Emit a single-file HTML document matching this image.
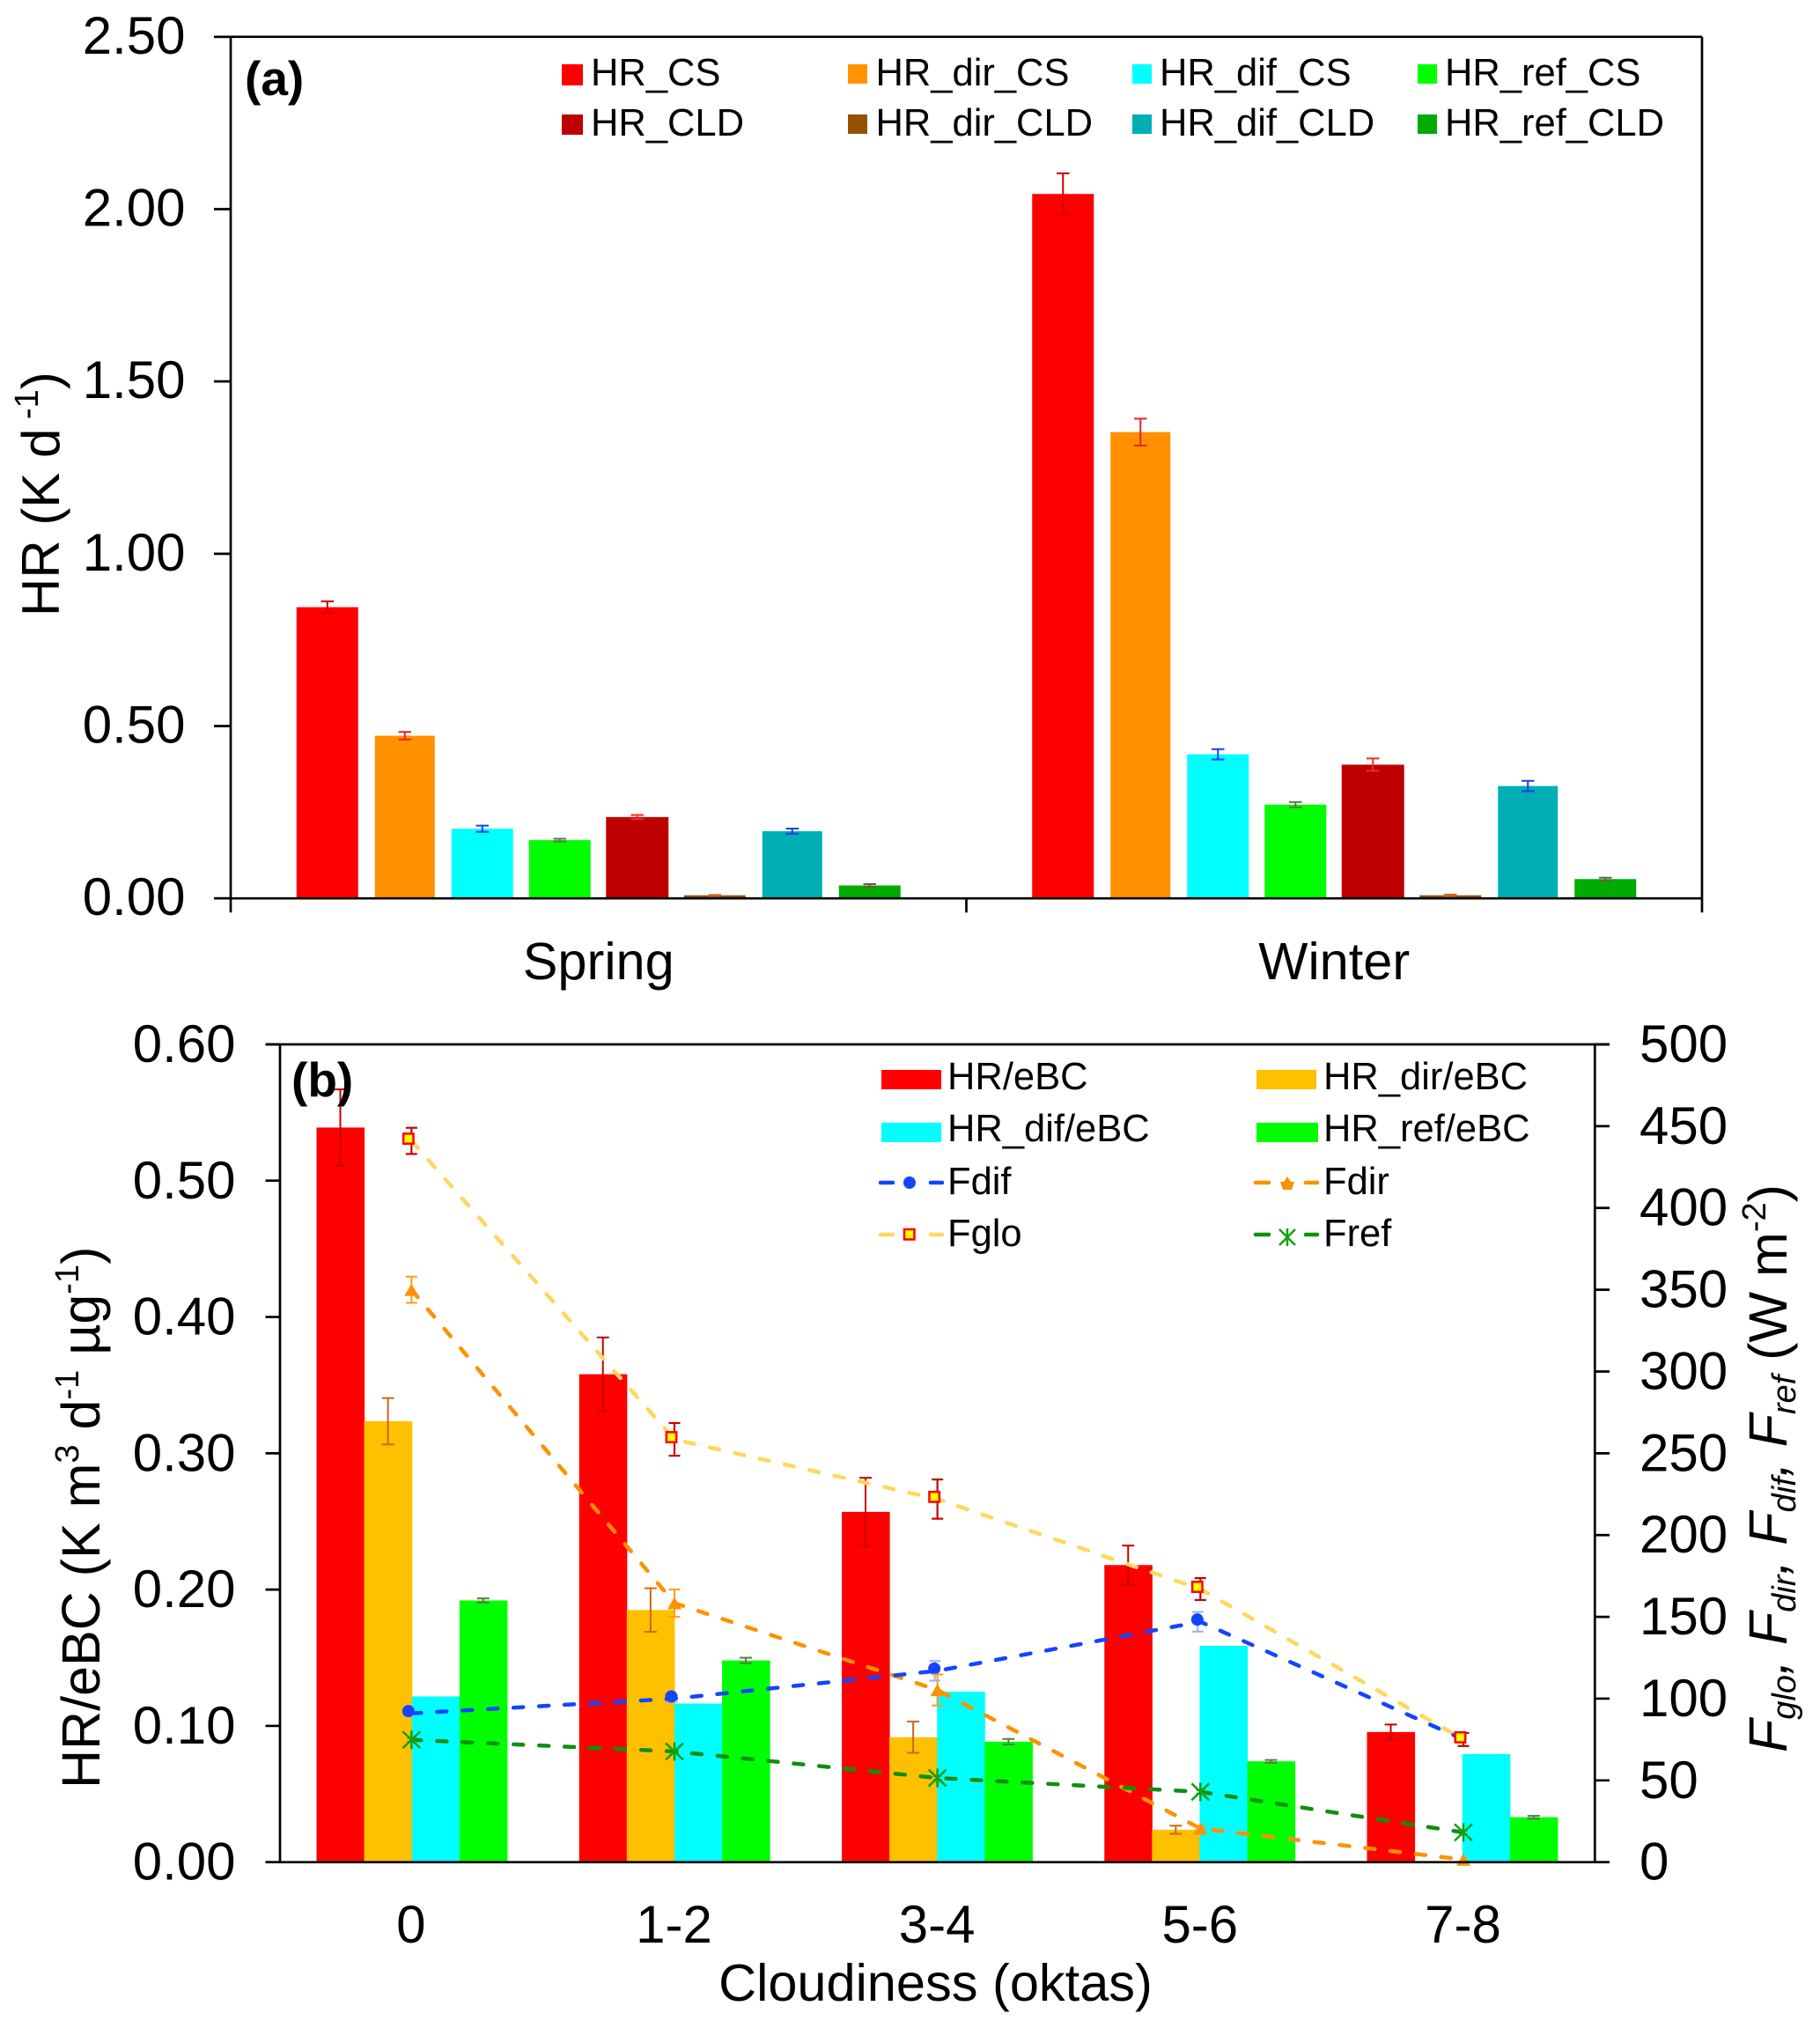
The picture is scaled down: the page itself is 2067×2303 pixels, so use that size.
<!DOCTYPE html>
<html lang="en">
<head>
<meta charset="utf-8">
<title>Heating rate charts</title>
<style>
html,body{margin:0;padding:0;background:#fff;}
svg{display:block;}
text{font-family:"Liberation Sans",Arial,sans-serif;fill:#000;}
.tick{font-size:60px;}
.cat{font-size:59.5px;}
.leg{font-size:43.5px;}
.title{font-size:60px;}
.titlewide{font-size:61px;}
.panel{font-size:55px;font-weight:bold;}
</style>
</head>
<body>
<svg id="figure" xmlns="http://www.w3.org/2000/svg" width="2067" height="2303" viewBox="0 0 2067 2303">
<rect x="0" y="0" width="2067" height="2303" fill="#fff"/>
<g id="panel-a"></g>
<g id="panel-b"></g>

<text class="panel" x="278" y="108">(a)</text>
<text class="title" transform="translate(67,700) rotate(-90)">HR (K d<tspan font-size="38" dy="-24"> -1</tspan><tspan dy="24">)</tspan></text>

<g>
<g><rect x="638" y="73" width="24" height="24" fill="#ff0000"/><text class="leg" x="671" y="97">HR_CS</text></g>
<g><rect x="638" y="130" width="24" height="23" fill="#bf0000"/><text class="leg" x="671" y="154">HR_CLD</text></g>
<g><rect x="963" y="73" width="22" height="22" fill="#ff9400"/><text class="leg" x="994.5" y="97">HR_dir_CS</text></g>
<g><rect x="963" y="130" width="22" height="22" fill="#945200"/><text class="leg" x="994.5" y="154">HR_dir_CLD</text></g>
<g><rect x="1286" y="73" width="22" height="22" fill="#00ffff"/><text class="leg" x="1317" y="97">HR_dif_CS</text></g>
<g><rect x="1286" y="130" width="22" height="22" fill="#00aeb3"/><text class="leg" x="1317" y="154">HR_dif_CLD</text></g>
<g><rect x="1610" y="73" width="22" height="22" fill="#00ff00"/><text class="leg" x="1641" y="97">HR_ref_CS</text></g>
<g><rect x="1610" y="130" width="22" height="22" fill="#00ab00"/><text class="leg" x="1641" y="154">HR_ref_CLD</text></g>
</g>

<text class="panel" x="331" y="1245">(b)</text>
<text class="titlewide" transform="translate(113,2031) rotate(-90)">HR/eBC (K m<tspan font-size="38" dy="-24">3</tspan><tspan dy="24"> d</tspan><tspan font-size="38" dy="-24">-1</tspan><tspan dy="24"> µg</tspan><tspan font-size="38" dy="-24">-1</tspan><tspan dy="24">)</tspan></text>
<text class="titlewide" transform="translate(2029,1990) rotate(-90)"><tspan font-style="italic">F</tspan><tspan font-style="italic" font-size="38" dy="10">glo</tspan><tspan font-style="italic" dy="-10">, F</tspan><tspan font-style="italic" font-size="38" dy="10">dir</tspan><tspan font-style="italic" dy="-10">, F</tspan><tspan font-style="italic" font-size="38" dy="10">dif</tspan><tspan font-style="italic" dy="-10">, F</tspan><tspan font-style="italic" font-size="38" dy="10">ref</tspan><tspan dy="-10"> (W m</tspan><tspan font-size="38" dy="-24">-2</tspan><tspan dy="24">)</tspan></text>
<text class="cat" text-anchor="middle" x="1062.5" y="2272">Cloudiness (oktas)</text>

<g>
<g><rect x="1001" y="1215" width="68" height="22" fill="#ff0000"/><text class="leg" x="1076" y="1237">HR/eBC</text></g>
<g><rect x="1001" y="1275" width="68" height="22" fill="#00ffff"/><text class="leg" x="1076" y="1296">HR_dif/eBC</text></g>
<g><line x1="1000" x2="1014" y1="1343" y2="1343" stroke="#1444ff" stroke-width="4.5" stroke-linecap="round"/><line x1="1057" x2="1070" y1="1343" y2="1343" stroke="#1444ff" stroke-width="4.5" stroke-linecap="round"/><circle cx="1033" cy="1343" r="7" fill="#1444ff"/><text class="leg" x="1076" y="1356">Fdif</text></g>
<g><line x1="1000" x2="1014" y1="1402" y2="1402" stroke="#ffd75e" stroke-width="4.5" stroke-linecap="round"/><line x1="1057" x2="1070" y1="1402" y2="1402" stroke="#ffd75e" stroke-width="4.5" stroke-linecap="round"/><rect x="1027" y="1396" width="11.5" height="11.5" fill="#ffff00" stroke="#ff0000" stroke-width="2.5"/><text class="leg" x="1076" y="1415">Fglo</text></g>
<g><rect x="1427" y="1215" width="68" height="22" fill="#ffc000"/><text class="leg" x="1503" y="1237">HR_dir/eBC</text></g>
<g><rect x="1427" y="1275" width="70" height="22" fill="#00ff00"/><text class="leg" x="1503" y="1296">HR_ref/eBC</text></g>
<g><line x1="1426" x2="1441" y1="1343" y2="1343" stroke="#ff9100" stroke-width="4.5" stroke-linecap="round"/><line x1="1483" x2="1496" y1="1343" y2="1343" stroke="#ff9100" stroke-width="4.5" stroke-linecap="round"/><path d="M1462 1336 L1466 1342 L1470 1342 L1467 1351 L1457 1351 L1454 1342 L1458 1342 Z" fill="#ff9100"/><text class="leg" x="1503" y="1356">Fdir</text></g>
<g><line x1="1426" x2="1441" y1="1402" y2="1402" stroke="#0e8f0e" stroke-width="4.5" stroke-linecap="round"/><line x1="1483" x2="1496" y1="1402" y2="1402" stroke="#0e8f0e" stroke-width="4.5" stroke-linecap="round"/><path d="M1453 1396 L1471 1414 M1471 1396 L1453 1414 M1462 1395 L1462 1415" stroke="#11a011" stroke-width="2.5" fill="none"/><text class="leg" x="1503" y="1415">Fref</text></g>
</g>

<script>
// ---------- Panel (a) data ----------
const seasons = ['Spring', 'Winter'];
const seriesA = ['hr-cs', 'hr-dir-cs', 'hr-dif-cs', 'hr-ref-cs', 'hr-cld', 'hr-dir-cld', 'hr-dif-cld', 'hr-ref-cld'];
const springValues = [0.845, 0.472, 0.202, 0.169, 0.236, 0.009, 0.195, 0.0375];
const winterValues = [2.044, 1.353, 0.418, 0.272, 0.388, 0.009, 0.326, 0.056];
const springErrors = [0.017, 0.011, 0.009, 0.004, 0.006, 0.001, 0.0075, 0.004];
const winterErrors = [0.06, 0.039, 0.015, 0.0075, 0.018, 0.002, 0.015, 0.004];
const ticksA = ['0.00', '0.50', '1.00', '1.50', '2.00', '2.50'];

// ---------- Panel (b) data ----------
const cloudiness = ['0', '1-2', '3-4', '5-6', '7-8'];
const hrEbc = [0.539, 0.358, 0.257, 0.218, 0.0955];
const hrDirEbc = [0.3235, 0.185, 0.0917, 0.0238, 0];
const hrDifEbc = [0.1216, 0.1164, 0.125, 0.1587, 0.0793];
const hrRefEbc = [0.192, 0.148, 0.0884, 0.074, 0.033];
const hrEbcErr = [0.028, 0.027, 0.025, 0.0143, 0.0055];
const hrDirEbcErr = [0.017, 0.016, 0.0115, 0.003, 0];
const hrDifEbcErr = [0, 0, 0, 0, 0];
const hrRefEbcErr = [0.0015, 0.002, 0.002, 0.001, 0.001];
const fGlo = [441, 258.5, 222, 167, 75];
const fDir = [350, 158.4, 105.3, 20.6, 1.6];
const fDif = [91, 100, 117, 147, 75];
const fRef = [74.8, 67.7, 51.5, 43, 18.2];
const fGloErr = [8, 10, 12, 6.7, 4];
const fDirErr = [8, 8.3, 9.5, 1.5, 0];
const fDifErr = [1.5, 2, 6, 6, 1];
const fRefErr = [1, 1, 1, 1, 1];
const ticksBLeft = ['0.00', '0.10', '0.20', '0.30', '0.40', '0.50', '0.60'];
const ticksBRight = ['0', '50', '100', '150', '200', '250', '300', '350', '400', '450', '500'];

// ---------- Styles ----------
const barColorsA = ['#ff0000', '#ff9100', '#00ffff', '#00ff00', '#bf0000', '#945200', '#00aeb3', '#00ab00'];
const barWidthsA = [70, 68, 70, 70, 71, 70, 68, 70];
const errColorsA = ['#d00000', '#f02020', '#1a3fff', '#5a7a40', '#e83020', '#c46a20', '#1f3fe0', '#606040'];
const barColorsB = ['#ff0000', '#ffc000', '#00ffff', '#00ff00'];
const errColorsB = ['#c80000', '#c86a14', '#3a6fe0', '#5a7a40'];

// ---------- Geometry / axis functions ----------
const SVGNS = 'http://www.w3.org/2000/svg';
const AX = {left: 262, right: 1933, top: 41.8, bottom: 1020.2, max: 2.5};
const BX = {left: 318, right: 1811.3, top: 1186, bottom: 2114.7, maxL: 0.6, maxR: 500};
function yA(v) { return AX.bottom - (v / AX.max) * (AX.bottom - AX.top); }
function yBL(v) { return BX.bottom - (v / BX.maxL) * (BX.bottom - BX.top); }
function yBR(v) { return BX.bottom - (v / BX.maxR) * (BX.bottom - BX.top); }
function bandA(i) { return AX.left + i * (AX.right - AX.left) / seasons.length; }
function bandWidthA() { return (AX.right - AX.left) / seasons.length; }
function barCenterA(g, s) { return bandA(g) + bandWidthA() / 2 + (s - (seriesA.length - 1) / 2) * 88; }
function bandB(i) { return BX.left + i * (BX.right - BX.left) / cloudiness.length; }
function bandWidthB() { return (BX.right - BX.left) / cloudiness.length; }
function centerB(i) { return bandB(i) + bandWidthB() / 2; }
function barLeftB(g, s) { return BX.left + 41.5 + g * 298.25 + s * 54.1; }

function make(tag, attrs, parent) {
  const el = document.createElementNS(SVGNS, tag);
  for (const k in attrs) el.setAttribute(k, attrs[k]);
  parent.appendChild(el);
  return el;
}
function axisLine(parent, x1, y1, x2, y2, name) {
  const el = make('line', {x1: x1, y1: y1, x2: x2, y2: y2, stroke: '#000', 'stroke-width': 2.7}, parent);
  
  
  return el;
}
function errorBar(parent, x, yHi, yLo, capW, color, sw, name) {
  const g = make('g', {stroke: color, 'stroke-width': sw, fill: 'none'}, parent);
  
  
  make('line', {x1: x, x2: x, y1: yHi, y2: yLo}, g);
  make('line', {x1: x - capW / 2, x2: x + capW / 2, y1: yHi, y2: yHi}, g);
  make('line', {x1: x - capW / 2, x2: x + capW / 2, y1: yLo, y2: yLo}, g);
}

// ---------- Draw panel (a) ----------
const pa = document.getElementById('panel-a');
const valuesA = [springValues, winterValues];
const errorsA = [springErrors, winterErrors];
seasons.forEach(function (season, g) {
  seriesA.forEach(function (key, s) {
    const v = valuesA[g][s];
    const e = errorsA[g][s];
    const cx = barCenterA(g, s);
    const w = barWidthsA[s];
    const bar = make('rect', {x: cx - w / 2, y: yA(v), width: w, height: yA(0) - yA(v), fill: barColorsA[s]}, pa);
    
    
    errorBar(pa, cx, yA(v + e), yA(v - e), 14.5, errColorsA[s], 2, 'error-bar-' + season.toLowerCase() + '-' + key);
  });
  const lab = make('text', {class: 'cat', x: bandA(g) + bandWidthA() / 2, y: 1112, 'text-anchor': 'middle'}, pa);
  lab.textContent = season;
  
  
});
axisLine(pa, AX.left, AX.top, AX.left, 1036.3, 'y-axis-a');
axisLine(pa, AX.right, AX.top, AX.right, 1036.3, 'right-border-a');
axisLine(pa, 243, AX.top, AX.right, AX.top, 'top-border-a');
axisLine(pa, 243, AX.bottom, AX.right, AX.bottom, 'x-axis-a');
axisLine(pa, (AX.left + AX.right) / 2, AX.bottom, (AX.left + AX.right) / 2, 1036.3, 'x-tick-a-mid');
ticksA.forEach(function (t) {
  const v = parseFloat(t);
  axisLine(pa, 243, yA(v), AX.left, yA(v), 'y-tick-a-' + t);
  const lab = make('text', {class: 'tick', x: 210.5, y: yA(v) + 19, 'text-anchor': 'end'}, pa);
  lab.textContent = t;
  
  
});

// ---------- Draw panel (b) ----------
const pb = document.getElementById('panel-b');
const barSeriesB = [hrEbc, hrDirEbc, hrDifEbc, hrRefEbc];
const barErrB = [hrEbcErr, hrDirEbcErr, hrDifEbcErr, hrRefEbcErr];
const barKeysB = ['hr-ebc', 'hr-dir-ebc', 'hr-dif-ebc', 'hr-ref-ebc'];
cloudiness.forEach(function (cat, g) {
  barSeriesB.forEach(function (arr, s) {
    const v = arr[g];
    const bar = make('rect', {x: barLeftB(g, s), y: yBL(v), width: 54.6, height: yBL(0) - yBL(v), fill: barColorsB[s]}, pb);
    
    
  });
});
cloudiness.forEach(function (cat, g) {
  barSeriesB.forEach(function (arr, s) {
    const e = barErrB[s][g];
    if (e > 0) {
      const cx = barLeftB(g, s) + 27;
      errorBar(pb, cx, yBL(arr[g] + e), yBL(arr[g] - e), 14, errColorsB[s], 2, 'error-bar-' + barKeysB[s] + '-' + cat);
    }
  });
  const lab = make('text', {class: 'tick', x: centerB(g) - 0.5, y: 2206, 'text-anchor': 'middle'}, pb);
  lab.textContent = cat;
  
  
});

function drawLine(values, color, key) {
  const pts = values.map(function (v, i) { return centerB(i) + ',' + yBR(v); }).join(' ');
  const pl = make('polyline', {points: pts, fill: 'none', stroke: color, 'stroke-width': 4.5, 'stroke-linecap': 'round', 'stroke-dasharray': '11 18'}, pb);
  
  
}
drawLine(fGlo, '#ffd75e', 'fglo');
drawLine(fDir, '#ff9100', 'fdir');
drawLine(fDif, '#1444ff', 'fdif');
drawLine(fRef, '#0e8f0e', 'fref');

cloudiness.forEach(function (cat, i) {
  const cx = centerB(i);
  let y = yBR(fDif[i]);
  errorBar(pb, cx - 3, yBR(fDif[i] + fDifErr[i]), yBR(fDif[i] - fDifErr[i]), 13, '#8fb8e8', 2, 'error-bar-fdif-' + cat);
  const c = make('circle', {cx: cx - 3.5, cy: y - 2.5, r: 7, fill: '#1444ff'}, pb);
  
  

  y = yBR(fDir[i]);
  if (fDirErr[i] > 0) {
    errorBar(pb, cx, yBR(fDir[i] + fDirErr[i]), yBR(fDir[i] - fDirErr[i]), 13, '#ff9a1a', 2, 'error-bar-fdir-' + cat);
  }
  const t = make('path', {d: 'M' + cx + ' ' + (y - 7) + ' L' + (cx + 8) + ' ' + (y + 7) + ' L' + (cx - 8) + ' ' + (y + 7) + ' Z', fill: '#ff9100'}, pb);
  
  

  y = yBR(fRef[i]);
  errorBar(pb, cx, yBR(fRef[i] + fRefErr[i]), yBR(fRef[i] - fRefErr[i]), 10, '#5a9a50', 1.5, 'error-bar-fref-' + cat);
  const a = make('path', {d: 'M' + (cx - 10) + ' ' + (y - 9.5) + ' L' + (cx + 10) + ' ' + (y + 9.5) + ' M' + (cx + 10) + ' ' + (y - 9.5) + ' L' + (cx - 10) + ' ' + (y + 9.5) + ' M' + cx + ' ' + (y - 10.5) + ' L' + cx + ' ' + (y + 10.5), stroke: '#11a011', 'stroke-width': 2.5, fill: 'none'}, pb);
  
  

  y = yBR(fGlo[i]);
  errorBar(pb, cx, yBR(fGlo[i] + fGloErr[i]), yBR(fGlo[i] - fGloErr[i]), 13, '#c80000', 2.2, 'error-bar-fglo-' + cat);
  const sq = make('rect', {x: cx - 3.5 - 5.7, y: y - 2.5 - 5.7, width: 11.4, height: 11.4, fill: '#ffff00', stroke: '#ff0000', 'stroke-width': 2.5}, pb);
  
  
});

axisLine(pb, BX.left, BX.top, BX.left, BX.bottom, 'y-axis-left-b');
axisLine(pb, BX.right, BX.top, BX.right, BX.bottom, 'y-axis-right-b');
axisLine(pb, 301.5, BX.top, 1828, BX.top, 'top-border-b');
axisLine(pb, 301.5, BX.bottom, 1828, BX.bottom, 'x-axis-b');
ticksBLeft.forEach(function (t) {
  const v = parseFloat(t);
  axisLine(pb, 301.5, yBL(v), BX.left, yBL(v), 'y-tick-left-b-' + t);
  const lab = make('text', {class: 'tick', x: 267.5, y: yBL(v) + 20, 'text-anchor': 'end'}, pb);
  lab.textContent = t;
  
  
});
ticksBRight.forEach(function (t) {
  const v = parseFloat(t);
  axisLine(pb, BX.right, yBR(v), 1828, yBR(v), 'y-tick-right-b-' + t);
  const lab = make('text', {class: 'tick', x: 1862, y: yBR(v) + 20}, pb);
  lab.textContent = t;
  
  
});
</script>
</svg>
</body>
</html>
